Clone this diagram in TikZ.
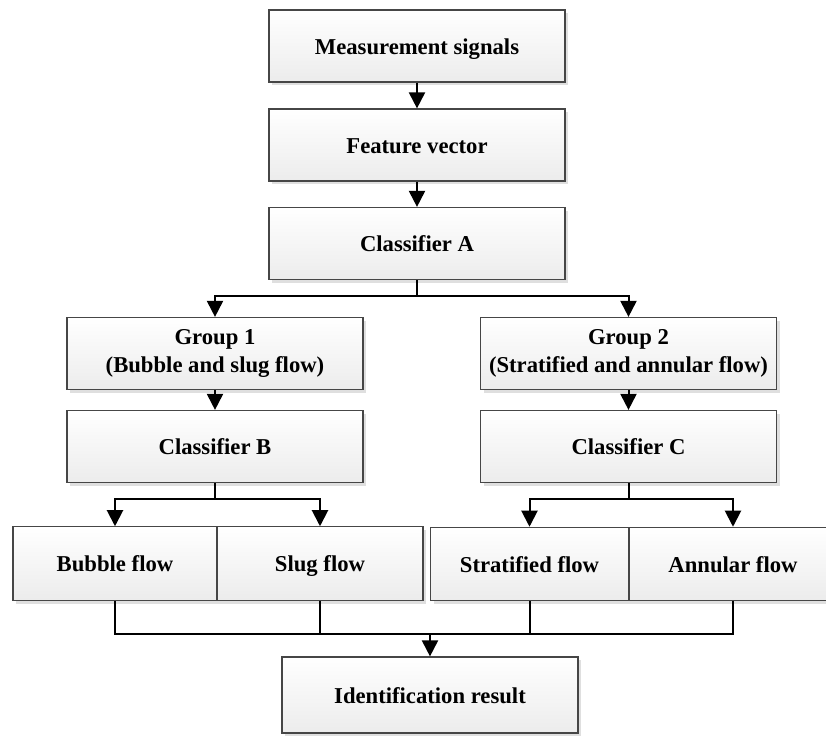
\documentclass[tikz,border=0pt]{standalone}
\usepackage{fontspec}
\setmainfont{Liberation Serif}
\usetikzlibrary{arrows.meta,shadows,positioning}

\tikzset{
  flowbox/.style={draw=gray!55!black, line width=0.9pt, top color=white, bottom color=gray!15,
    drop shadow={shadow xshift=2.5pt,shadow yshift=-2.5pt,opacity=0.25,fill=gray},
    minimum height=54pt, inner sep=0pt, align=center,
    font=\fontsize{17}{21}\selectfont\bfseries},
  oneline/.style={text height=15pt, text depth=3pt},
  widebox/.style={flowbox, minimum width=222pt},
  conn/.style={line width=1.5pt},
  arr/.style={conn, -{Triangle[length=12pt,width=12pt]}}
}

\begin{document}
\begin{tikzpicture}[x=0.75pt,y=-0.75pt]
\useasboundingbox (0,0) rectangle (826,736);

% main chain
\node[widebox, oneline] (ms) at (417,46) {Measurement signals};
\node[widebox, oneline] (fv) at (417,145) {Feature vector};
\node[widebox, oneline] (ca) at (417,243.5) {Classifier A};

% two groups
\node[widebox] (g1) at (215,353.5) {Group 1\\(Bubble and slug flow)};
\node[widebox, oneline] (cb) at (215,446.5) {Classifier B};
\node[widebox] (g2) at (628.5,353.5) {Group 2\\(Stratified and annular flow)};
\node[widebox, oneline] (cc) at (628.5,446.5) {Classifier C};

% flow patterns
\node[flowbox, oneline, minimum width=153pt, minimum height=55pt] (bub) at (115,563.5) {Bubble flow};
\node[flowbox, oneline, minimum width=154.5pt, minimum height=55pt] (slug) at (320,563.5) {Slug flow};
\node[flowbox, oneline, minimum width=149pt, minimum height=55pt] (strat) at (529.5,564) {Stratified flow};
\node[flowbox, oneline, minimum width=156pt, minimum height=55pt] (ann) at (733,564) {Annular flow};

\node[widebox, oneline, minimum height=57pt] (ir) at (430,695) {Identification result};

% junctions
\coordinate (ja) at (417,296);
\coordinate (jb) at (215,499);
\coordinate (jc) at (628.5,499);
\coordinate (jr) at (430,634);

\draw[arr] (ms) -- (fv);
\draw[arr] (fv) -- (ca);
\draw[conn] (ca.south) -- (ja);
\draw[arr] (ja) -| (g1.north);
\draw[arr] (ja) -| (g2.north);
\draw[arr] (g1) -- (cb);
\draw[arr] (g2) -- (cc);

\draw[conn] (cb.south) -- (jb);
\draw[arr] (jb) -| (bub.north);
\draw[arr] (jb) -| (slug.north);
\draw[conn] (cc.south) -- (jc);
\draw[arr] (jc) -| (strat.north);
\draw[arr] (jc) -| (ann.north);

\draw[conn] (bub.south) |- (jr);
\draw[conn] (slug.south) |- (jr);
\draw[conn] (strat.south) |- (jr);
\draw[conn] (ann.south) |- (jr);
\draw[arr] (jr) -- (ir.north);
\end{tikzpicture}
\end{document}
